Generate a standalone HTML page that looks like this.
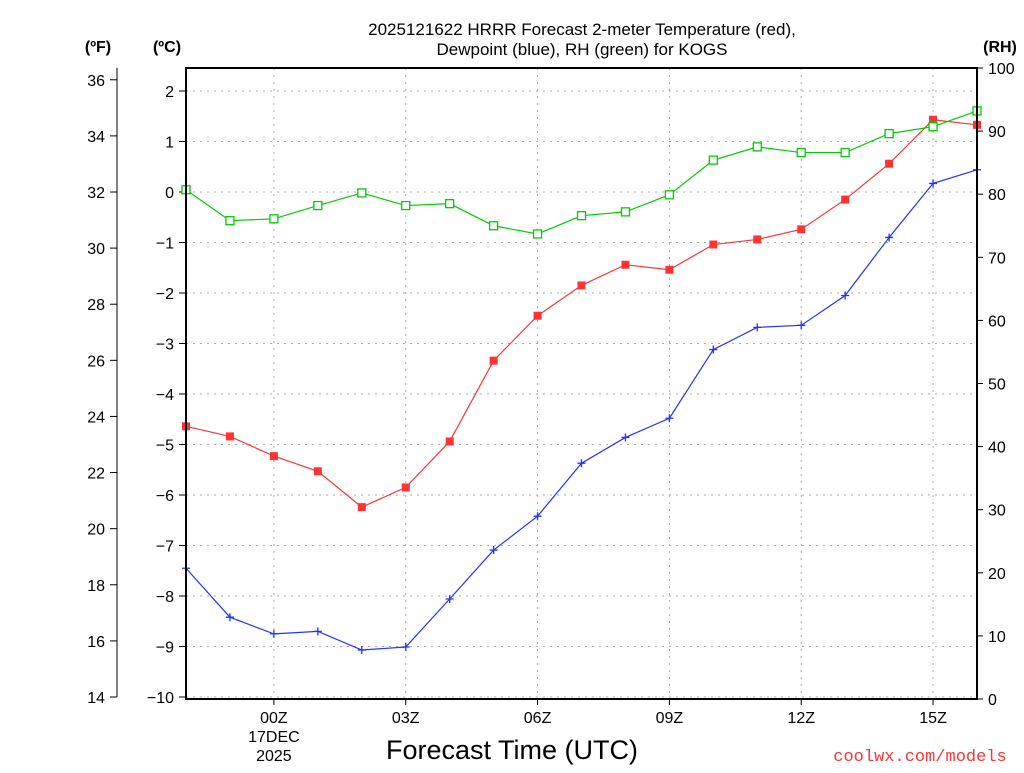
<!DOCTYPE html>
<html><head><meta charset="utf-8"><style>
body{margin:0;background:#fff;width:1024px;height:768px;overflow:hidden}
svg text{font-family:"Liberation Sans",sans-serif;fill:#000}
</style></head><body>
<svg id="chart" width="1024" height="768" xmlns="http://www.w3.org/2000/svg">
<text x="582" y="35" font-size="17" text-anchor="middle">2025121622 HRRR Forecast 2-meter Temperature (red),</text>
<text x="582" y="55" font-size="17" text-anchor="middle">Dewpoint (blue), RH (green) for KOGS</text>
<text x="98" y="52" font-size="16" font-weight="bold" text-anchor="middle">(ºF)</text>
<text x="167" y="52" font-size="16" font-weight="bold" text-anchor="middle">(ºC)</text>
<text x="1000" y="52" font-size="16" font-weight="bold" text-anchor="middle">(RH)</text>
<g id="grid"></g><g id="axes"></g><g id="series"></g>
<rect x="186" y="68" width="791" height="631" fill="none" stroke="#000" stroke-width="2"/>
<text x="512" y="759" font-size="27" text-anchor="middle">Forecast Time (UTC)</text>
<text x="920" y="761" font-size="17" text-anchor="middle" style="fill:#f33;font-family:'Liberation Mono',monospace">coolwx.com/models</text>
</svg>
<script>
const hours=[0,1,2,3,4,5,6,7,8,9,10,11,12,13,14,15,16,17,18];
const tempC=[-4.64,-4.84,-5.23,-5.53,-6.24,-5.85,-4.94,-3.34,-2.45,-1.85,-1.44,-1.54,-1.04,-0.94,-0.74,-0.15,0.56,1.43,1.33];
const dewC=[-7.45,-8.42,-8.75,-8.7,-9.07,-9.01,-8.06,-7.09,-6.42,-5.37,-4.86,-4.48,-3.12,-2.68,-2.64,-2.05,-0.9,0.17,0.44];
const rh=[80.7,75.8,76.1,78.2,80.2,78.2,78.5,75.0,73.7,76.6,77.2,79.9,85.4,87.5,86.6,86.6,89.6,90.7,93.2];
const cTicks=[-10,-9,-8,-7,-6,-5,-4,-3,-2,-1,0,1,2];
const fTicks=[14,16,18,20,22,24,26,28,30,32,34,36];
const rhTicks=[0,10,20,30,40,50,60,70,80,90,100];
const xTickHours=[2,5,8,11,14,17];
const xTickLabels=["00Z","03Z","06Z","09Z","12Z","15Z"];
const NS="http://www.w3.org/2000/svg";
const X=h=>186+h*(791/18);
const YC=c=>697-(c+10)*50.5;
const YF=f=>YC((f-32)*5/9);
const YR=r=>699-r*6.31;
function mk(parent,tag,attrs,txt){const e=document.createElementNS(NS,tag);for(const k in attrs)e.setAttribute(k,attrs[k]);if(txt!==undefined)e.textContent=txt;document.getElementById(parent).appendChild(e);return e;}
cTicks.forEach(c=>{
 const y=YC(c);
 const g=mk('grid','line',{x1:186,x2:977,y1:y,y2:y,stroke:'#aaa','stroke-dasharray':'2,5'});
 
 
 const t=mk('axes','line',{x1:179,x2:186,y1:y,y2:y,stroke:'#000'});
 
 
 const l=mk('axes','text',{x:174,y:y+6,'font-size':16,'text-anchor':'end'},c<0?'\u2212'+(-c):String(c));
 
 
});
const fl=mk('axes','line',{x1:117,x2:117,y1:YF(14),y2:YF(36)-12,stroke:'#000'});


fTicks.forEach(f=>{
 const y=YF(f);
 const t=mk('axes','line',{x1:110,x2:117,y1:y,y2:y,stroke:'#000'});
 
 
 const l=mk('axes','text',{x:105,y:y+6,'font-size':16,'text-anchor':'end'},String(f));
 
 
});
rhTicks.forEach(r=>{
 const y=YR(r);
 const t=mk('axes','line',{x1:977,x2:983,y1:y,y2:y,stroke:'#000'});
 
 
 const l=mk('axes','text',{x:988,y:y+6,'font-size':16},String(r));
 
 
});
xTickHours.forEach((h,i)=>{
 const x=X(h);
 const g=mk('grid','line',{x1:x,x2:x,y1:68,y2:699,stroke:'#aaa','stroke-dasharray':'2,5'});
 
 
 const t=mk('axes','line',{x1:x,x2:x,y1:699,y2:705,stroke:'#000'});
 
 
 const l=mk('axes','text',{x:x,y:723,'font-size':16,'text-anchor':'middle'},xTickLabels[i]);
 
 
});
const d1=mk('axes','text',{x:X(2),y:742,'font-size':16,'text-anchor':'middle'},'17DEC');


const d2=mk('axes','text',{x:X(2),y:761,'font-size':16,'text-anchor':'middle'},'2025');


function series(vals,yf,color,name,marker){
 const pts=vals.map((v,i)=>[X(hours[i]),yf(v)]);
 const pl=mk('series','polyline',{points:pts.map(p=>p.join(',')).join(' '),fill:'none',stroke:color,'stroke-width':1.2});
 
 
 pts.forEach(([x,y])=>{
  let m;
  if(marker==='fill'){m=mk('series','rect',{x:x-4,y:y-4,width:8,height:8,fill:color});}
  else if(marker==='open'){m=mk('series','rect',{x:x-4,y:y-4,width:8,height:8,fill:'#fff',stroke:color,'stroke-width':1.3});}
  else{m=mk('series','path',{d:`M${x-4},${y}H${x+4}M${x},${y-4}V${y+4}`,stroke:color,'stroke-width':1.3});}
  
  
 });
}
series(tempC,YC,'#f33','temperature','fill');
series(dewC,YC,'#2233ff','dewpoint','plus');
series(rh,YR,'#00cc00','rh','open');
</script>
</body></html>
